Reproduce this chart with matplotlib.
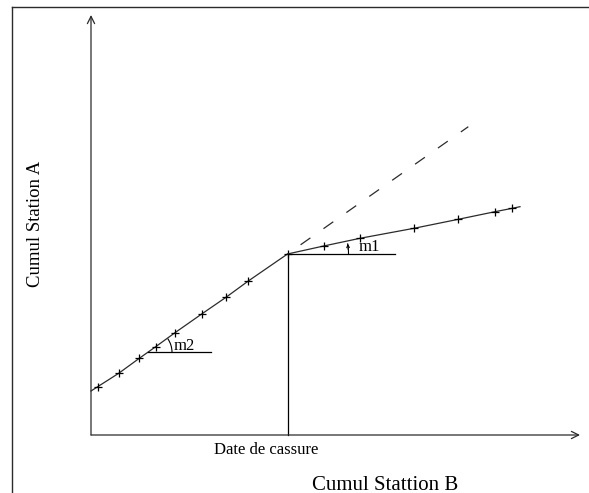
import matplotlib
matplotlib.use("Agg")
import matplotlib.pyplot as plt
from matplotlib.patches import Arc
from matplotlib.lines import Line2D

# -----------------------------
# DATA
# -----------------------------

# cumulative values, before the break
x_before = [0.0, 0.67, 2.77, 4.83, 6.47, 8.4, 11.07, 13.5, 15.73, 19.65]
y_before = [4.4, 4.83, 6.17, 7.67, 8.83, 10.23, 12.1, 13.77, 15.4, 18.1]

# cumulative values, after the break
x_after = [19.65, 23.27, 26.9, 32.3, 36.73, 40.4, 42.13, 42.9]
y_after = [18.1, 18.9, 19.67, 20.67, 21.57, 22.33, 22.67, 22.83]

# extension of the first slope
x_ext = [19.65, 37.73]
y_ext = [18.1, 30.83]

break_x = 19.65
break_y = 18.1

# slope helpers (angle marks)
m2_line_x = [5.7, 12.0]
m2_line_y = [8.27, 8.27]
m1_line_x = [19.65, 30.4]
m1_line_y = [18.1, 18.1]

x_axis_end = 48.9
y_axis_end = 42.0

line_col = "#2b2b2b"
serif = "Liberation Serif"

fig = plt.figure(figsize=(5.89, 4.93), dpi=100)
ax = fig.add_axes([0, 0, 1, 1])
ax.set_xlim(-9.1, 49.8)
ax.set_ylim(-5.8, 43.5)
ax.axis("off")

# frame (top and left only)
fig.add_artist(Line2D([12 / 589, 1], [1 - 7 / 493, 1 - 7 / 493],
                      color=line_col, lw=1.0, transform=fig.transFigure))
fig.add_artist(Line2D([12 / 589, 12 / 589], [0, 1 - 7 / 493],
                      color=line_col, lw=1.0, transform=fig.transFigure))

# axes with arrows
arrow = dict(arrowstyle="->", lw=0.9, color=line_col, mutation_scale=13,
             shrinkA=0, shrinkB=0)
ax.annotate("", xy=(x_axis_end, 0), xytext=(0, 0), arrowprops=arrow)
ax.annotate("", xy=(0, y_axis_end), xytext=(0, 0), arrowprops=arrow)

# double mass curve
ax.plot(x_before, y_before, color=line_col, lw=0.9)
ax.plot(x_before[1:], y_before[1:], ls="none", marker="+", ms=6, mew=0.9,
        color="black")
ax.plot(x_after, y_after, color=line_col, lw=0.9)
ax.plot(x_after[1:-1], y_after[1:-1], ls="none", marker="+", ms=6, mew=0.9,
        color="black")

# dashed extension
ax.plot(x_ext, y_ext, color=line_col, lw=0.9, linestyle=(9.6, (9.6, 12.8)))

# break date
ax.plot([break_x, break_x], [0, break_y], color="black", lw=0.9)

# slope marks
ax.plot(m2_line_x, m2_line_y, color="black", lw=0.9)
ax.plot(m1_line_x, m1_line_y, color="black", lw=0.9)
ax.add_patch(Arc((m2_line_x[0], m2_line_y[0]), 4.8, 4.8, theta1=0, theta2=35,
                 color="black", lw=0.8))
ax.add_patch(Arc((break_x, break_y), 12.2, 12.2, theta1=0, theta2=10,
                 color="black", lw=0.8))
ax.annotate("", xy=(25.68, 19.12), xytext=(25.72, 18.55),
            arrowprops=dict(arrowstyle="->", lw=0.7, color="black",
                            mutation_scale=5, shrinkA=0, shrinkB=0))

ax.text(8.3, 8.9, "m2", fontsize=12, family=serif, va="center")
ax.text(26.8, 18.83, "m1", fontsize=12, family=serif, va="center")

# labels
ax.text(12.3, -1.5, "Date de cassure", fontsize=12, family=serif,
        va="center")
ax.text(22.07, -5.0, "Cumul Stattion B", fontsize=15, family=serif,
        va="center")
ax.text(-5.5, 21.15, "Cumul Station A", fontsize=13.5, family=serif,
        rotation=90, ha="center", va="center")

fig.savefig("out.png", dpi=100)
